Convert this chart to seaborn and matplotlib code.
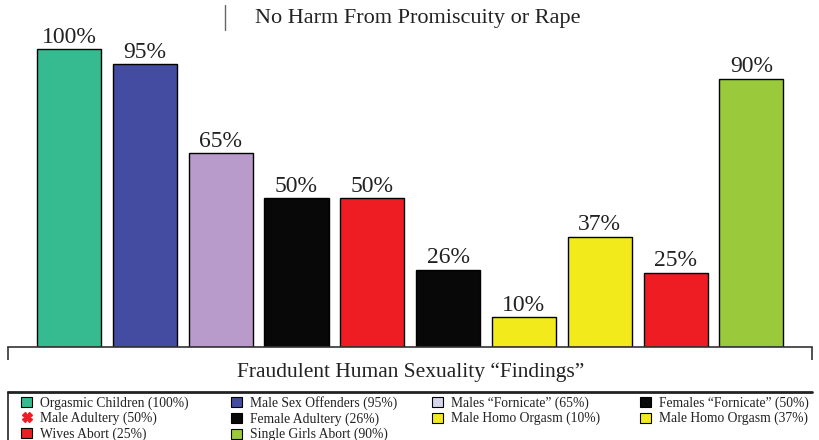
import matplotlib
matplotlib.use("Agg")
import matplotlib.pyplot as plt
from matplotlib.patches import Patch
from matplotlib.lines import Line2D
import seaborn as sns

sns.set_theme(style="white")
plt.rcParams['font.family'] = ['Liberation Serif', 'DejaVu Serif']

categories = ["Orgasmic Children (100%)", "Male Sex Offenders (95%)",
              "Males \u201cFornicate\u201d (65%)", "Females \u201cFornicate\u201d (50%)",
              "Male Adultery (50%)", "Female Adultery (26%)",
              "Male Homo Orgasm (10%)", "Male Homo Orgasm (37%)",
              "Wives Abort (25%)", "Single Girls Abort (90%)"]
values = [100, 95, 65, 50, 50, 26, 10, 37, 25, 90]
bar_colors = ["#35BB8F", "#434CA0", "#B89BCB", "#080808", "#EE1D24",
              "#080808", "#F2EA1A", "#F2EA1A", "#EE1D24", "#9ACA3C"]
legend_colors = ["#35BB8F", "#434CA0", "#D4D4EA", "#080808", "#EE1D24",
                 "#080808", "#F2EA1A", "#F2EA1A", "#EE1D24", "#9ACA3C"]
title = "No Harm From Promiscuity or Rape"
xlabel = "Fraudulent Human Sexuality \u201cFindings\u201d"

W, H = 819, 440
fig = plt.figure(figsize=(W / 100, H / 100), dpi=100)
ax = fig.add_axes([8 / W, (H - 347) / H, 804 / W, 347 / H])

sns.barplot(x=categories, y=values, hue=categories, palette=bar_colors,
            order=categories, hue_order=categories, legend=False,
            width=0.845, edgecolor="black", linewidth=1.0, saturation=1, ax=ax)
for c in ax.containers:
    ax.bar_label(c, fmt="%.0f%%", padding=1, fontsize=17, color="#222222")

ax.set_ylim(0, 100 * 347 / 298)
x0, x1 = -0.805, 9.80
ax.set_xlim(x0, x1)
for s in ["top", "right", "left"]:
    ax.spines[s].set_visible(False)
ax.spines["bottom"].set_color("#333333")
ax.spines["bottom"].set_linewidth(1.2)
ax.set_yticks([])
ax.set_xticks([x0 + 0.002, x1 - 0.002])
ax.set_xticklabels([])
ax.tick_params(axis="x", direction="out", length=9, width=1.2, color="#333333", bottom=True)
ax.set_xlabel("")

fig.text(418 / W, 1 - 18 / H, title, ha="center", va="center", fontsize=16, color="#222222")
fig.add_artist(Line2D([225 / W, 225 / W], [1 - 5 / H, 1 - 30 / H], color="#666666", lw=1))
fig.text(411 / W, 1 - 372 / H, xlabel, ha="center", va="center", fontsize=15.5, color="#222222")

# legend box edges
fig.add_artist(Line2D([8 / W, 812 / W], [1 - 392 / H, 1 - 392 / H], color="#222222", lw=2))
fig.add_artist(Line2D([8 / W, 8 / W], [1 - 392 / H, 0], color="#222222", lw=1.2))

handles = []
for i, (lab, col) in enumerate(zip(categories, legend_colors)):
    if i == 4:
        handles.append(Line2D([], [], marker="X", linestyle="", markersize=7,
                              markerfacecolor=col, markeredgecolor=col, label=lab))
    else:
        handles.append(Patch(facecolor=col, edgecolor="black", linewidth=0.8, label=lab))

columns = [[0, 4, 8], [1, 5, 9], [2, 6], [3, 7]]
col_x = [16, 226, 427, 635]
for idx, cx in zip(columns, col_x):
    leg = fig.legend(handles=[handles[i] for i in idx], loc="upper left",
                     bbox_to_anchor=(cx / W, 1 - 391 / H), frameon=False,
                     fontsize=9.8, handlelength=0.75, handleheight=0.75,
                     handletextpad=0.6, labelspacing=0.15, borderaxespad=0.0,
                     labelcolor="#222222")

fig.savefig("out.png", dpi=100)
